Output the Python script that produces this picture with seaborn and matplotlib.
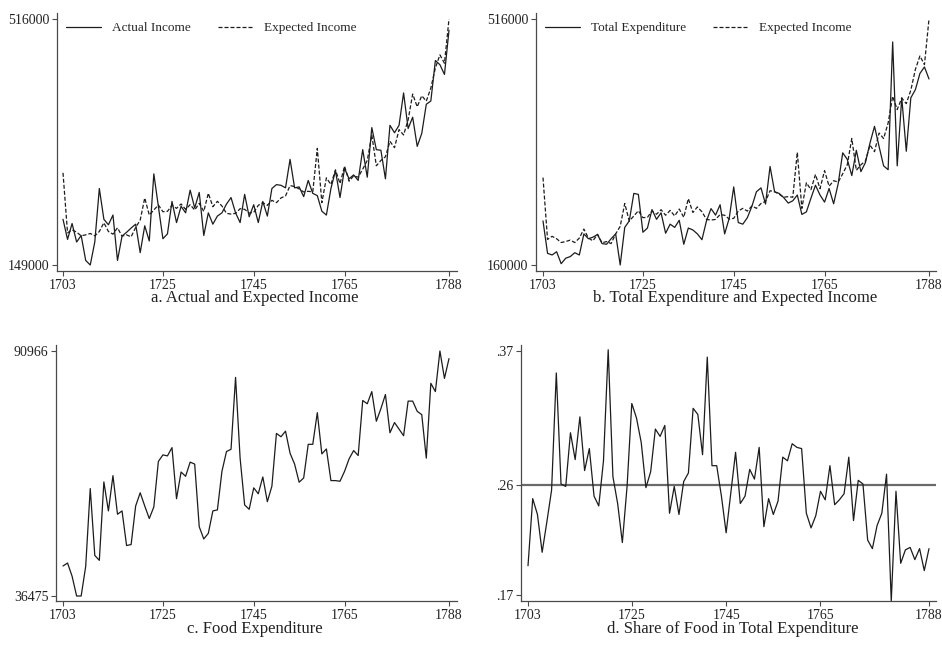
import numpy as np
import pandas as pd
import matplotlib
matplotlib.use("Agg")
import matplotlib.pyplot as plt
import seaborn as sns


# ======================
# DATA (1703-1788)
# ======================

years = list(range(1703, 1789))

# thousands
actual_income = [
    217.2, 187.2, 210.9, 183.3, 193.0, 155.8, 149.0, 183.3, 263.1, 217.2,
    209.0, 223.5, 155.8, 192.0, 197.8, 204.1, 209.9, 167.4, 207.5, 184.8,
    284.9, 236.5, 188.2, 195.4, 243.8, 212.3, 236.5, 226.8, 260.7, 234.1,
    257.3, 193.0, 226.8, 209.9, 222.0, 226.8, 239.9, 249.6, 226.8, 212.3,
    254.4, 221.0, 238.9, 212.3, 243.8, 222.0, 263.1, 268.9, 267.9, 264.1,
    306.6, 264.1, 265.5, 251.0, 275.2, 255.9, 252.5, 229.3, 223.5, 263.1,
    289.7, 249.6, 293.1, 277.6, 283.4, 275.2, 321.1, 280.0, 354.0, 321.1,
    320.2, 277.6, 357.4, 346.3, 357.4, 405.7, 352.6, 369.5, 326.0, 345.3,
    388.8, 393.7, 454.1, 447.8, 433.3, 499.1,
]

expected_income = [
    286.5, 197.0, 201.5, 198.0, 192.5, 194.0, 196.0, 192.5, 199.0, 212.0,
    199.0, 195.0, 204.5, 192.0, 194.0, 191.0, 205.0, 216.0, 249.0, 223.5,
    231.0, 238.5, 228.5, 229.0, 238.0, 233.5, 240.0, 232.0, 239.0, 231.0,
    241.0, 229.0, 256.0, 236.0, 244.0, 237.0, 226.0, 225.0, 226.0, 233.0,
    232.0, 226.5, 227.5, 238.0, 242.0, 238.0, 245.5, 242.0, 249.0, 252.0,
    267.5, 266.0, 262.5, 258.0, 259.0, 258.0, 323.0, 242.0, 279.0, 269.0,
    291.0, 270.5, 296.5, 274.0, 282.0, 280.0, 292.0, 305.0, 343.0, 297.0,
    305.0, 310.5, 333.5, 324.0, 351.0, 343.0, 365.5, 404.0, 385.0, 401.5,
    393.5, 413.0, 443.0, 462.5, 450.0, 516.0,
]

total_expenditure = [
    223.8, 176.9, 174.5, 179.2, 161.9, 169.8, 172.2, 177.8, 174.5, 205.0,
    198.0, 200.3, 204.1, 191.0, 190.0, 198.0, 205.0, 160.0, 214.4, 223.8,
    263.6, 262.2, 207.4, 213.5, 240.2, 226.1, 235.5, 206.0, 219.1, 214.4,
    224.7, 190.0, 213.5, 210.7, 205.0, 196.6, 223.8, 241.6, 232.2, 247.2,
    205.0, 227.5, 273.0, 221.4, 219.1, 228.5, 244.9, 266.0, 271.6, 248.2,
    302.6, 266.0, 263.6, 257.6, 249.6, 252.9, 261.3, 233.2, 236.9, 256.6,
    275.4, 261.3, 251.0, 270.7, 248.6, 277.7, 322.3, 312.9, 289.4, 326.0,
    295.1, 308.2, 336.3, 360.7, 331.7, 303.5, 297.9, 482.7, 303.5, 402.0,
    324.6, 402.0, 413.7, 437.2, 446.6, 429.2,
]

food_expenditure = [
    43.15, 43.81, 40.88, 36.475, 36.475, 43.08, 60.38, 45.50, 44.40, 61.85,
    55.40, 63.24, 54.66, 55.40, 47.70, 47.92, 56.50, 59.43, 56.50, 53.71,
    56.28, 66.40, 67.86, 67.64, 69.48, 58.11, 64.05, 63.10, 66.25, 65.81,
    51.88, 49.16, 50.41, 55.40, 55.62, 64.20, 68.60, 69.11, 85.10, 67.13,
    56.72, 55.76, 60.53, 59.21, 62.95, 57.45, 60.90, 72.63, 71.90, 73.14,
    68.23, 65.81, 61.78, 62.73, 70.21, 70.21, 77.25, 68.08, 69.18, 62.14,
    62.14, 62.00, 64.20, 66.98, 68.82, 67.72, 79.96, 79.23, 81.94, 75.34,
    78.13, 81.29, 72.78, 75.05, 73.59, 72.12, 79.82, 79.82, 77.55, 76.81,
    67.13, 83.78, 81.94, 90.966, 84.88, 89.28,
]

food_share = [
    .194, .249, .236, .205, .230, .256, .352, .261, .259, .303,
    .281, .316, .272, .290, .251, .243, .280, .371, .267, .245,
    .213, .259, .327, .315, .295, .258, .271, .306, .300, .309,
    .237, .259, .236, .263, .270, .323, .318, .285, .365, .276,
    .276, .251, .221, .254, .287, .245, .251, .273, .265, .291,
    .226, .249, .236, .247, .283, .280, .294, .291, .290, .237,
    .225, .235, .255, .248, .276, .244, .248, .253, .283, .231,
    .264, .261, .215, .208, .227, .237, .269, .165, .255, .196,
    .207, .209, .199, .208, .190, .208,
]

mean_share = 0.26

x_ticks = [1703, 1725, 1745, 1765, 1788]

df = pd.DataFrame({
    'year': years,
    'actual': np.array(actual_income) * 1000,
    'expected': np.array(expected_income) * 1000,
    'total': np.array(total_expenditure) * 1000,
    'food': np.array(food_expenditure) * 1000,
    'share': food_share,
})


# ======================
# STYLE
# ======================

sns.set_style("ticks")
plt.rcParams['font.family'] = ['Liberation Serif', 'DejaVu Serif']

LINE = '#1c1c1c'
AXC = '#4a4a4a'
DASH = (0, (3.2, 1.6))

W, H = 942, 658
fig = plt.figure(figsize=(W / 100, H / 100), dpi=100)


def make_axes(left, top, right, bottom, x0, x1, ytop_px, ybot_px, yhi, ylo):
    ax = fig.add_axes([left / W, 1 - bottom / H, (right - left) / W, (bottom - top) / H])
    r = (1788 - 1703) / (x1 - x0)
    ax.set_xlim(1703 - (x0 - left) * r, 1788 + (right - x1) * r)
    s = (yhi - ylo) / (ybot_px - ytop_px)
    ax.set_ylim(ylo - (bottom - ybot_px) * s, yhi + (ytop_px - top) * s)
    sns.despine(ax=ax)
    for side in ['left', 'bottom']:
        ax.spines[side].set_color(AXC)
        ax.spines[side].set_linewidth(0.9)
    ax.tick_params(colors=AXC, labelcolor='#222222', length=3.5, width=0.8,
                   labelsize=10, pad=2)
    ax.set_xticks(x_ticks)
    return ax


def legend(ax, labels):
    ax.legend(labels=labels, handles=ax.get_lines()[:2], loc='upper left',
              bbox_to_anchor=(0.0, 1.0), ncol=2, frameon=False,
              handlelength=2.6, columnspacing=2.0, handletextpad=0.9,
              borderaxespad=0.3, fontsize=9.5)


# ======================
# a. ACTUAL AND EXPECTED INCOME
# ======================

ax = make_axes(57, 13, 457, 271, 63, 449, 19, 265, 516000, 149000)
sns.lineplot(data=df, x='year', y='actual', ax=ax, color=LINE, lw=0.9)
sns.lineplot(data=df, x='year', y='expected', ax=ax, color=LINE, lw=0.9, linestyle=DASH)
ax.set_yticks([149000, 516000])
ax.set_yticklabels(['149000', '516000'])
ax.set_xlabel('')
ax.set_ylabel('')
legend(ax, ['Actual Income', 'Expected Income'])

# ======================
# b. TOTAL EXPENDITURE AND EXPECTED INCOME
# ======================

ax = make_axes(536, 13, 936, 271, 543, 929, 19, 265, 516000, 160000)
sns.lineplot(data=df, x='year', y='total', ax=ax, color=LINE, lw=0.9)
sns.lineplot(data=df, x='year', y='expected', ax=ax, color=LINE, lw=0.9, linestyle=DASH)
ax.set_yticks([160000, 516000])
ax.set_yticklabels(['160000', '516000'])
ax.set_xlabel('')
ax.set_ylabel('')
legend(ax, ['Total Expenditure', 'Expected Income'])

# ======================
# c. FOOD EXPENDITURE
# ======================

ax = make_axes(56, 345, 457, 601, 63, 449, 351, 596, 90966, 36475)
sns.lineplot(data=df, x='year', y='food', ax=ax, color=LINE, lw=0.9)
ax.set_yticks([36475, 90966])
ax.set_yticklabels(['36475', '90966'])
ax.set_xlabel('')
ax.set_ylabel('')

# ======================
# d. SHARE OF FOOD
# ======================

ax = make_axes(521, 345, 936, 601, 528, 929, 351, 595, 0.37, 0.17)
ax.axhline(mean_share, color='#6a6a6a', lw=1.6, zorder=1)
sns.lineplot(data=df, x='year', y='share', ax=ax, color=LINE, lw=0.9, zorder=2)
ax.set_yticks([0.17, 0.26, 0.37])
ax.set_yticklabels(['.17', '.26', '.37'])
ax.set_xlabel('')
ax.set_ylabel('')

# ======================
# CAPTIONS
# ======================

cap = dict(ha='center', va='center', fontsize=12, color='#222222')
fig.text(255 / W, 1 - 298 / H, 'a. Actual and Expected Income', **cap)
fig.text(735 / W, 1 - 298 / H, 'b. Total Expenditure and Expected Income', **cap)
fig.text(255 / W, 1 - 629 / H, 'c. Food Expenditure', **cap)
fig.text(733 / W, 1 - 629 / H, 'd. Share of Food in Total Expenditure', **cap)

fig.savefig('out.png', dpi=100)
